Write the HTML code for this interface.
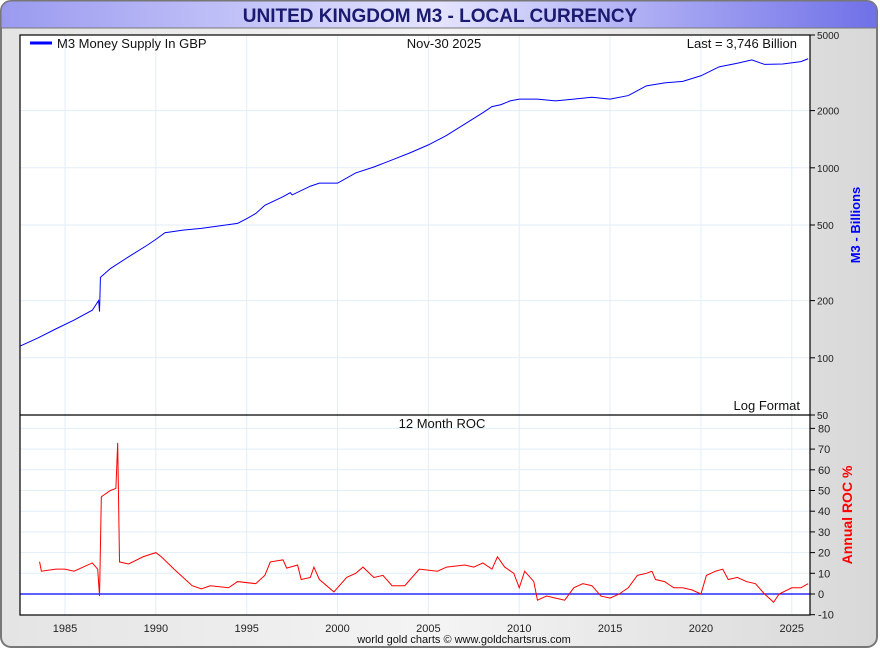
<!DOCTYPE html>
<html><head><meta charset="utf-8"><style>
body{margin:0;width:880px;height:650px;overflow:hidden;font-family:"Liberation Sans",sans-serif;background:#fff}
</style></head><body>
<svg width="880" height="650" xmlns="http://www.w3.org/2000/svg">
<defs>
<linearGradient id="bg" x1="0" x2="1"><stop offset="0" stop-color="#e4e4e4"/><stop offset="0.5" stop-color="#f4f4f4"/><stop offset="1" stop-color="#d8d8d8"/></linearGradient>
<linearGradient id="tb" x1="0" x2="1"><stop offset="0" stop-color="#9a9af0"/><stop offset="0.5" stop-color="#e4e4ff"/><stop offset="1" stop-color="#7070e8"/></linearGradient>
</defs>
<rect x="1" y="1" width="876" height="646" rx="10" fill="url(#bg)" stroke="#777" stroke-width="2"/>
<path d="M1,28 V11 A10,10 0 0 1 11,1 H867 A10,10 0 0 1 877,11 V28 Z" fill="url(#tb)" stroke="#777"/>
<text x="440" y="22" text-anchor="middle" font-size="19" font-weight="bold" fill="#1a1a70">UNITED KINGDOM M3 - LOCAL CURRENCY</text>
<rect x="20" y="35" width="790" height="580" fill="#fff"/>
<g id="grid"></g>
<g id="marks"></g>
<rect x="20" y="35" width="790" height="580" fill="none" stroke="#000" stroke-width="1.2"/>
<line x1="20" y1="415" x2="810" y2="415" stroke="#000" stroke-width="1.2"/>
<g id="axes" font-size="11" fill="#222"></g>
<line x1="30" y1="43" x2="52" y2="43" stroke="#00f" stroke-width="3"/>
<text x="57" y="48" font-size="13" fill="#111">M3 Money Supply In GBP</text>
<text x="444" y="48" font-size="13" text-anchor="middle" fill="#111">Nov-30  2025</text>
<text x="797" y="48" font-size="13" text-anchor="end" fill="#111">Last = 3,746 Billion</text>
<text x="800" y="410" font-size="13" text-anchor="end" fill="#111">Log Format</text>
<text x="442" y="428" font-size="13" text-anchor="middle" fill="#111">12 Month ROC</text>
<text transform="translate(860,225) rotate(-90)" font-size="13" font-weight="bold" text-anchor="middle" fill="#00f">M3 - Billions</text>
<text transform="translate(852,515) rotate(-90)" font-size="14" font-weight="bold" text-anchor="middle" fill="#f00">Annual ROC %</text>
<text x="464" y="643" font-size="11" text-anchor="middle" fill="#111">world gold charts © www.goldchartsrus.com</text>
</svg>
<script>
const years=[1985,1990,1995,2000,2005,2010,2015,2020,2025];
const m3Ticks=[50,100,200,500,1000,2000,5000];
const rocTicks=[-10,0,10,20,30,40,50,60,70,80];
const m3Dates=[1982.5,1983.5,1984.5,1985.5,1986.5,1986.85,1986.9,1986.95,1987.5,1988.5,1989.5,1990,1990.5,1991.5,1992.5,1993.5,1994.5,1995,1995.5,1996,1997,1997.4,1997.5,1998.5,1999,2000,2001,2002,2003,2004,2005,2006,2007,2008,2008.5,2009,2009.5,2010,2011,2012,2013,2014,2015,2016,2017,2018,2019,2020,2021,2022,2022.8,2023.5,2024.5,2025.5,2025.9];
const m3Values=[115,127,142,158,178,200,175,265,295,340,390,420,455,470,480,495,510,540,575,635,705,740,720,800,830,830,940,1010,1100,1200,1320,1480,1700,1950,2100,2150,2250,2300,2300,2250,2300,2350,2300,2400,2700,2800,2850,3050,3400,3550,3700,3500,3520,3620,3750];
const rocDates=[1983.6,1983.7,1984.5,1985,1985.5,1986,1986.5,1986.8,1986.9,1987.0,1987.5,1987.8,1987.9,1988.0,1988.5,1989.3,1990,1990.3,1991,1992,1992.5,1993,1994,1994.5,1995.5,1996,1996.3,1997,1997.2,1997.8,1998,1998.5,1998.7,1999,1999.8,2000.5,2001,2001.4,2002,2002.5,2003,2003.7,2004,2004.5,2005.5,2006,2007,2007.5,2008,2008.5,2008.8,2009.2,2009.7,2010,2010.3,2010.8,2011,2011.5,2012,2012.5,2013,2013.5,2014,2014.5,2015,2015.5,2016,2016.5,2017,2017.3,2017.5,2018,2018.5,2019,2019.5,2020,2020.3,2020.8,2021.2,2021.5,2022,2022.5,2023,2023.5,2024,2024.3,2025,2025.5,2025.9];
const rocValues=[15.6,11,12,12,11,13,15,12,-1,47,50,51,73,15.5,14.5,18,20,18,12,4,2.5,4,3,6,5,9,15.5,16.5,12.5,14,7,8,13,7,1,8,10,13,8,9,4,4,7,12,11,13,14,13,15,12,18,13,10,3,11,6,-3,-1,-2,-3,3,5,4,-1,-2,0,3,9,10,11,7,6,3,3,2,0,9,11,12,7,8,6,5,0,-4,0,3,3,5];
const NS="http://www.w3.org/2000/svg";
const X=y=>65+(y-1985)*18.17;
const YM=v=>415-190*(Math.log10(v)-Math.log10(50));
const YR=v=>594-v*2.07;
function mk(t,a,p){const e=document.createElementNS(NS,t);for(const k in a)e.setAttribute(k,a[k]);p.appendChild(e);return e;}
const grid=document.getElementById('grid'),axes=document.getElementById('axes'),marks=document.getElementById('marks');
years.forEach(y=>{
 const g=mk('line',{x1:X(y),x2:X(y),y1:35,y2:615,stroke:'#e2eef8'},grid);
 
 
 const t=mk('text',{x:X(y),y:632,'text-anchor':'middle'},axes);t.textContent=y;
 
 
});
m3Ticks.forEach(v=>{
 const y=YM(v);
 if(v>50&&v<5000){const g=mk('line',{x1:20,x2:810,y1:y,y2:y,stroke:'#e2eef8'},grid);
 
 }
 mk('line',{x1:810,x2:815,y1:y,y2:y,stroke:'#000'},axes);
 const t=mk('text',{x:817,y:y+4},axes);t.textContent=v;t.setAttribute('font-size','10');
 
 
});
rocTicks.forEach(v=>{
 const y=YR(v);
 if(v>-10){const g=mk('line',{x1:20,x2:810,y1:y,y2:y,stroke:'#e2eef8'},grid);
 
 }
 mk('line',{x1:810,x2:815,y1:y,y2:y,stroke:'#000'},axes);
 const t=mk('text',{x:818,y:y+4},axes);t.textContent=v;
 
 
});
const zl=mk('line',{x1:20,x2:810,y1:YR(0),y2:YR(0),stroke:'#00f','stroke-width':1.2},marks);


const m3=mk('polyline',{points:m3Dates.map((d,i)=>X(d)+','+YM(m3Values[i])).join(' '),fill:'none',stroke:'#00f','stroke-width':1},marks);


const roc=mk('polyline',{points:rocDates.map((d,i)=>X(d)+','+YR(rocValues[i])).join(' '),fill:'none',stroke:'#f00','stroke-width':1},marks);


</script>
</body></html>
